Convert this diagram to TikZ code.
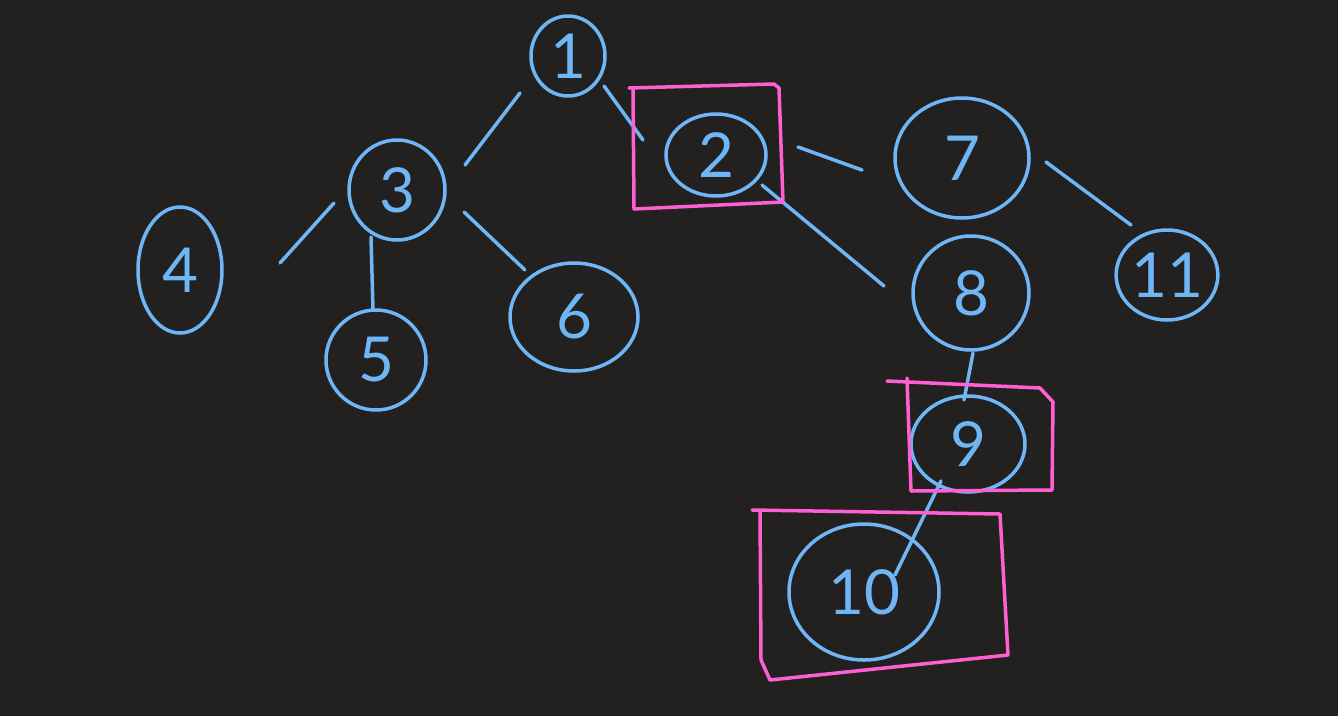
\documentclass[tikz,border=0pt]{standalone}
\usepackage{fontspec}
\setmainfont{Lato}
\usetikzlibrary{shapes.geometric}
\definecolor{bg}{RGB}{34,33,32}
\definecolor{inkblue}{RGB}{110,182,245}
\definecolor{inkpink}{RGB}{255,95,210}
\tikzset{
  tnode/.style={ellipse, draw=inkblue, line width=3.5pt, inner sep=0pt, text=inkblue,
    font=\fontsize{62}{62}\selectfont},
  tedge/.style={draw=inkblue, line width=3.5pt, line cap=round},
  hilite/.style={draw=inkpink, line width=3.5pt, line cap=round, line join=round}
}
\begin{document}
\begin{tikzpicture}[x=1pt,y=-1pt]
\fill[bg] (0,0) rectangle (1338,716);
\useasboundingbox (0,0) rectangle (1338,716);
% nodes
\node[tnode, minimum width=74pt, minimum height=80pt] (n1) at (568,56) {1};
\node[tnode, minimum width=100pt, minimum height=82pt] (n2) at (716,155) {2};
\node[tnode, minimum width=96pt, minimum height=100pt] (n3) at (397,190) {3};
\node[tnode, minimum width=84pt, minimum height=126pt] (n4) at (180,270) {4};
\node[tnode, minimum width=100pt, minimum height=100pt] (n5) at (376,360) {5};
\node[tnode, minimum width=128pt, minimum height=108pt] (n6) at (574,317) {6};
\node[tnode, minimum width=134pt, minimum height=120pt] (n7) at (962,158) {7};
\node[tnode, minimum width=116pt, minimum height=114pt] (n8) at (971,293) {8};
\node[tnode, minimum width=114pt, minimum height=96pt] (n9) at (968,444) {9};
\node[tnode, minimum width=150pt, minimum height=136pt] (n10) at (864,592) {10};
\node[tnode, minimum width=100pt, minimum height=90pt] (n11) at (1167,275) {11};
% edges
\draw[tedge] ([shift={(36,30)}]n1.center) -- ([shift={(-73,-15)}]n2.center);
\draw[tedge] ([shift={(-48,37)}]n1.center) -- ([shift={(68,-25)}]n3.center);
\draw[tedge] ([shift={(-63,13)}]n3.center) -- ([shift={(100,-7)}]n4.center);
\draw[tedge] ([shift={(-26,47)}]n3.center) -- ([shift={(-3,-50)}]n5.center);
\draw[tedge] ([shift={(67,22)}]n3.center) -- ([shift={(-49,-47)}]n6.center);
\draw[tedge] ([shift={(82,-8)}]n2.center) -- ([shift={(-100,12)}]n7.center);
\draw[tedge] ([shift={(46,30)}]n2.center) -- ([shift={(-87,-7)}]n8.center);
\draw[tedge] ([shift={(84,4)}]n7.center) -- ([shift={(-36,-50)}]n11.center);
\draw[tedge] ([shift={(2,60)}]n8.center) -- ([shift={(-4,-44)}]n9.center);
\draw[tedge] ([shift={(-27,37)}]n9.center) -- ([shift={(31,-17)}]n10.center);
% highlight boxes
\draw[hilite] (629,88) -- (774,84) -- (779,88) -- (783,202) -- (634,209) -- (633,88);
\draw[hilite] (887,381) -- (1040,388) -- (1053,402) -- (1052,490) -- (911,491) -- (907,378);
\draw[hilite] (752,510) -- (1000,514) -- (1008,655) -- (770,680) -- (761,660) -- (760,510);
\end{tikzpicture}
\end{document}
